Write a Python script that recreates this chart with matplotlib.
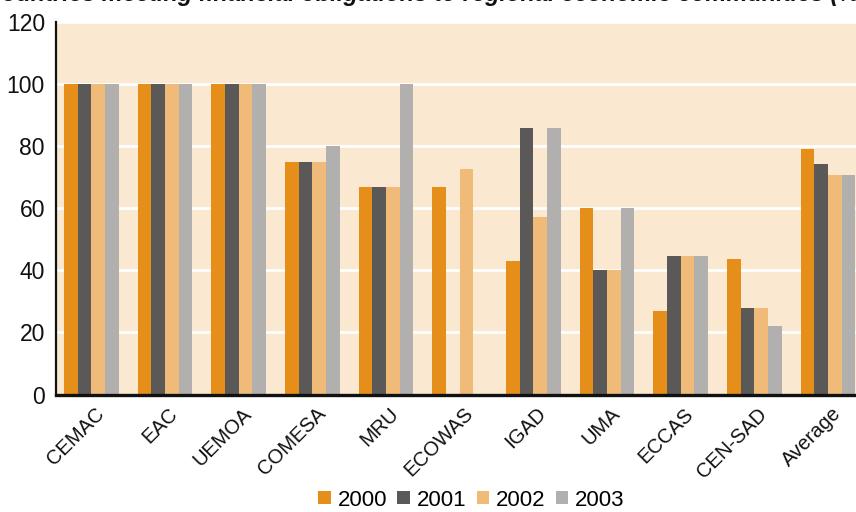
import matplotlib
matplotlib.use("Agg")
import matplotlib.pyplot as plt
import numpy as np
from matplotlib.patches import Patch
import matplotlib.transforms as mtransforms

plt.rcParams['font.family'] = ['Liberation Sans', 'DejaVu Sans']

categories = ["CEMAC", "EAC", "UEMOA", "COMESA", "MRU", "ECOWAS", "IGAD",
              "UMA", "ECCAS", "CEN-SAD", "Average"]
years = ["2000", "2001", "2002", "2003"]
v2000 = [100, 100, 100, 75, 66.7, 66.7, 42.9, 60, 27, 43.5, 79]
v2001 = [100, 100, 100, 75, 66.7, 0, 85.7, 40, 44.5, 27.8, 74.3]
v2002 = [100, 100, 100, 75, 66.7, 72.7, 57.1, 40, 44.5, 27.8, 70.7]
v2003 = [100, 100, 100, 80, 100, 0, 85.7, 60, 44.5, 22.2, 70.7]
series = [v2000, v2001, v2002, v2003]
colors = ["#E58F1A", "#5A5958", "#F0BB79", "#B1B0AE"]
yticks = [0, 20, 40, 60, 80, 100, 120]
title = "countries meeting financial obligations to regional economic communities (%)"

fig = plt.figure(figsize=(8.56, 5.12), dpi=100)
ax = fig.add_axes([56/856, 1-394.5/512, 1-56/856, (394.5-22)/512])
ax.set_facecolor("#FAE8D0")

x = np.arange(len(categories))
bw = 0.186
for i, (vals, c) in enumerate(zip(series, colors)):
    ax.bar(x + (i - 1.5) * bw, vals, width=bw, color=c, zorder=3, label=years[i])

ax.set_ylim(0, 120)
ax.set_xlim(-0.48, 10.38)
ax.set_yticks(yticks)
ax.set_yticklabels([str(t) for t in yticks], fontsize=16.5, color="#111111")
ax.yaxis.grid(True, color="white", linewidth=2, zorder=1)
ax.set_axisbelow(True)
ax.tick_params(axis='both', length=0, pad=6)
ax.tick_params(axis='y', pad=8)

ax.set_xticks(x)
ax.set_xticklabels(categories, rotation=45, ha='right', va='center',
                   rotation_mode='anchor', fontsize=14.5, color="#111111")
offset = mtransforms.ScaledTranslation(10/100, -8/100, fig.dpi_scale_trans)
for lbl in ax.get_xticklabels():
    lbl.set_transform(lbl.get_transform() + offset)

for s in ['top', 'right']:
    ax.spines[s].set_visible(False)
ax.spines['left'].set_linewidth(1.6)
ax.spines['left'].set_color("#111111")
ax.spines['bottom'].set_linewidth(2.4)
ax.spines['bottom'].set_color("#111111")
ax.spines['bottom'].set_zorder(5)

handles = [Patch(facecolor=c, edgecolor='none', label=y) for c, y in zip(colors, years)]
fig.legend(handles=handles, loc='center', bbox_to_anchor=(471.5/856, 1-500/512),
           ncol=4, frameon=False, fontsize=16, handlelength=0.55, handleheight=0.55,
           handletextpad=0.33, columnspacing=0.45, borderpad=0)

fig.text(-11/856, 1-1.5/512, title, ha='left', va='baseline', fontsize=17,
         fontweight='bold', fontstyle='italic', color="#111111")

fig.savefig("out.png", dpi=100)
